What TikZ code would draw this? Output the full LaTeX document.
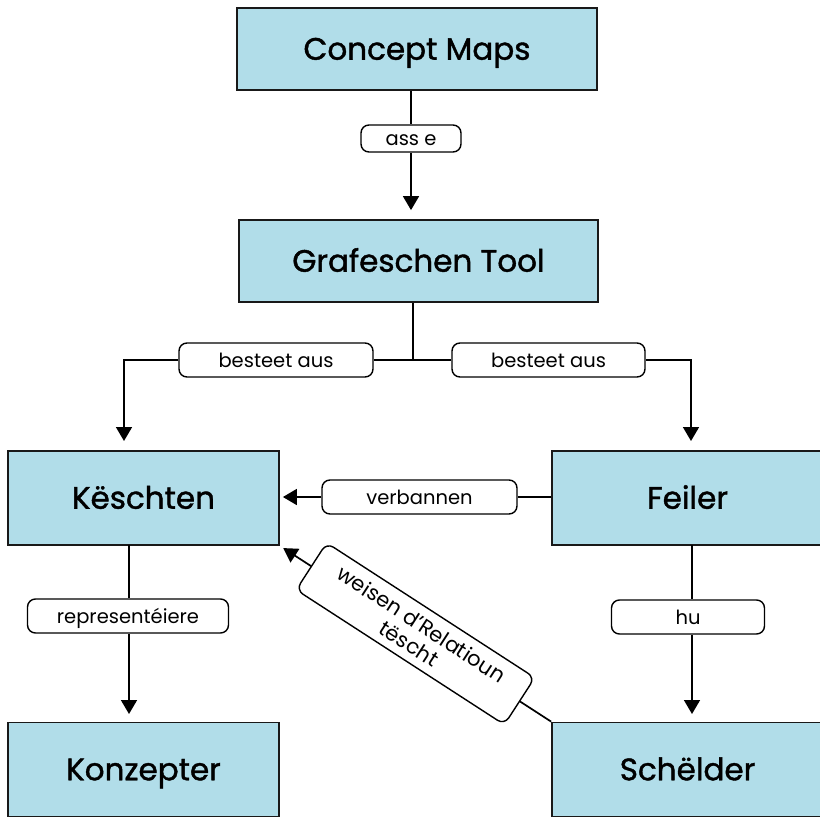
\documentclass[tikz,border=0pt]{standalone}
\usepackage{fontspec}
\setmainfont{Poppins}
\usetikzlibrary{arrows.meta}
\definecolor{boxblue}{HTML}{B1DDE9}
\begin{document}
\begin{tikzpicture}[x=1pt,y=-1pt,
  concept/.style={draw=black!90, line width=1.8pt, fill=boxblue, inner sep=0pt,
    minimum width=271pt, minimum height=94pt,
    font=\fontsize{31}{34}\selectfont\addfontfeature{FakeBold=1.3}, text height=21.5pt, text depth=0pt},
  linkbox/.style={draw=black, fill=white, line width=1.4pt, rounded corners=8pt,
    inner sep=0pt, minimum height=34pt,
    font=\fontsize{19.5}{22}\selectfont, text height=14pt, text depth=0pt},
  conn/.style={draw=black, line width=1.7pt},
  arr/.style={conn, -{Triangle[width=16pt,length=14pt]}}]
\useasboundingbox (0,0) rectangle (819,819);

% concept boxes
\node[concept, minimum width=360pt, minimum height=82pt] (cm) at (417,49) {Concept Maps};
\node[concept, minimum width=359pt, minimum height=82pt] (gt) at (418.5,261) {Grafeschen Tool};
\node[concept] (k)  at (143.5,498) {Këschten};
\node[concept] (f)  at (687.5,498) {Feiler};
\node[concept] (ko) at (143.5,769.5) {Konzepter};
\node[concept] (s)  at (687.5,769.5) {Schëlder};

% link labels
\node[linkbox, minimum width=100pt, minimum height=27pt] (asse) at (411,138.5) {ass e};
\node[linkbox, minimum width=194pt] (bl) at (276,360) {besteet aus};
\node[linkbox, minimum width=193pt] (br) at (548.5,360) {besteet aus};
\node[linkbox, minimum width=195pt] (verb) at (419.5,497) {verbannen};
\node[linkbox, minimum width=201pt] (repr) at (128,616) {representéiere};
\node[linkbox, minimum width=153pt] (hu) at (688,617) {hu};

% helper points
\coordinate (j)  at (413,360);
\coordinate (kt) at (124,451);
\coordinate (ft) at (691,451);
\coordinate (kb) at (129,545);
\coordinate (kot) at (129,722);
\coordinate (fb) at (692,545);
\coordinate (st) at (692,722);

% connectors
\draw[conn] (asse |- cm.south) -- (asse.north);
\draw[arr, shorten >=9pt] (asse.south) -- (asse |- gt.north);

\draw[conn] (j |- gt.south) -- (j);
\draw[conn] (bl.east) -- (j) -- (br.west);
\draw[arr, shorten >=10pt] (bl.west) -| (kt);
\draw[arr, shorten >=10pt] (br.east) -| (ft);

\draw[conn] (f.west |- verb) -- (verb.east);
\draw[arr, shorten >=3pt] (verb.west) -- (k.east |- verb);

\draw[conn] (kb) -- (repr.north -| kb);
\draw[arr, shorten >=8pt] (repr.south -| kb) -- (kot);

\draw[conn] (fb) -- (hu.north -| fb);
\draw[arr, shorten >=8pt] (hu.south -| fb) -- (st);

\draw[arr, shorten >=4pt] (s.north west) --
  node[linkbox, sloped, minimum width=248pt, minimum height=56pt, align=center,
       text height=, text depth=, font=\fontsize{21}{23}\selectfont] (rel)
  {weisen d'Relatioun\\tëscht} (k.south east);
\end{tikzpicture}
\end{document}
